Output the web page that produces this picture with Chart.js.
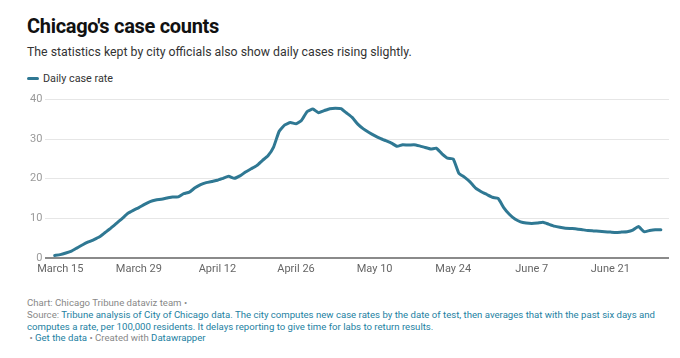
<!DOCTYPE html>
<html>
<head>
<meta charset="utf-8">
<script src="https://cdn.jsdelivr.net/npm/chart.js@4/dist/chart.umd.min.js"></script>
<style>
  html, body { margin: 0; padding: 0; background: #fff; }
  body { width: 680px; height: 358px; position: relative; overflow: hidden; font-family: Roboto, "Noto Sans", sans-serif; }
  #title { position: absolute; left: 27px; top: 14px; font-size: 20px; font-weight: 700; color: #111; letter-spacing: -0.3px; white-space: nowrap; }
  #subtitle { position: absolute; left: 27px; top: 45px; font-size: 12.3px; color: #333; white-space: nowrap; }
  #legend { position: absolute; left: 27px; top: 72px; font-size: 10.8px; color: #333; white-space: nowrap; display: flex; align-items: center; }
  #legend .sw { display: inline-block; width: 12px; height: 3px; border-radius: 2px; background: #2f7893; margin-right: 4px; }
  #wrap { position: absolute; left: 0; top: 90px; width: 680px; height: 200px; }
  #footer { position: absolute; left: 27px; top: 297px; font-size: 9.6px; line-height: 11.8px; color: #888; white-space: nowrap; }
  #footer .lk { color: #1d81a2; }
</style>
</head>
<body>
<div id="title">Chicago's case counts</div>
<div id="subtitle">The statistics kept by city officials also show daily cases rising slightly.</div>
<div id="legend"><span class="sw"></span>Daily case rate</div>
<div id="wrap"><canvas id="c"></canvas></div>
<div id="footer">Chart: Chicago Tribune dataviz team •<br>Source: <span class="lk">Tribune analysis of City of Chicago data. The city computes new case rates by the date of test, then averages that with the past six days and<br>computes a rate, per 100,000 residents. It delays reporting to give time for labs to return results.</span><br>&nbsp;• <span class="lk">Get the data</span> • Created with <span class="lk">Datawrapper</span></div>
<script>
// Daily case rate per 100,000, one value per day starting March 14
const seriesName = "Daily case rate";
const firstDay = "March 14";
const dailyRate = [
  0.6, 0.8, 1.2, 1.7, 2.5, 3.3, 4.0, 4.6, 5.3, 6.4,
  7.5, 8.7, 9.9, 11.2, 12.0, 12.7, 13.5, 14.2, 14.6, 14.8,
  15.1, 15.4, 15.4, 16.2, 16.6, 17.7, 18.5, 19.0, 19.3, 19.6,
  20.1, 20.6, 20.1, 20.7, 21.7, 22.5, 23.3, 24.6, 25.8, 28.0,
  32.0, 33.6, 34.2, 33.9, 34.8, 37.0, 37.6, 36.7, 37.2, 37.7,
  37.8, 37.7, 36.6, 35.5, 33.8, 32.6, 31.7, 30.9, 30.2, 29.6,
  29.0, 28.2, 28.6, 28.5, 28.6, 28.3, 27.9, 27.5, 27.7, 26.3,
  25.2, 25.0, 21.4, 20.4, 19.2, 17.6, 16.7, 16.0, 15.3, 15.0,
  12.7, 11.0, 9.8, 9.1, 8.8, 8.7, 8.8, 9.0, 8.5, 8.0,
  7.7, 7.5, 7.4, 7.3, 7.1, 6.9, 6.8, 6.7, 6.6, 6.5,
  6.4, 6.5, 6.6, 7.0, 7.9, 6.6, 6.9, 7.1, 7.1
];
// x tick positions (days after March 14) and their labels
const tickDays = [1, 15, 29, 43, 57, 71, 85, 99];
const tickLabels = ["March 15", "March 29", "April 12", "April 26", "May 10", "May 24", "June 7", "June 21"];
const yTicks = [0, 10, 20, 30, 40];

const lineColor = "#2f7893";
const points = dailyRate.map((v, i) => ({ x: i, y: v }));

new Chart(document.getElementById("c"), {
  type: "line",
  data: {
    datasets: [{
      label: seriesName,
      data: points,
      borderColor: lineColor,
      borderWidth: 3,
      pointRadius: 0,
      tension: 0.15,
      borderCapStyle: "round",
      borderJoinStyle: "round",
      fill: false
    }]
  },
  options: {
    responsive: true,
    maintainAspectRatio: false,
    animation: false,
    layout: { padding: { left: 27, right: 11, top: 9, bottom: 9 } },
    plugins: { legend: { display: false }, tooltip: { enabled: false } },
    scales: {
      x: {
        type: "linear",
        min: -1.66,
        max: 109.45,
        afterBuildTicks: (s) => { s.ticks = tickDays.map(v => ({ value: v })); },
        ticks: {
          autoSkip: false,
          maxRotation: 0,
          padding: 5,
          color: "#666",
          font: { family: "Roboto", size: 11 },
          callback: (v) => tickLabels[tickDays.indexOf(v)] || ""
        },
        grid: { display: false, drawTicks: false },
        border: { display: false }
      },
      y: {
        min: 0,
        max: 40,
        afterBuildTicks: (s) => { s.ticks = yTicks.map(v => ({ value: v })); },
        ticks: {
          padding: 3,
          color: "#9a9a9a",
          font: { family: "Roboto", size: 11 }
        },
        grid: {
          drawTicks: false,
          color: (ctx) => ctx.tick && ctx.tick.value === 0 ? "#8a8a8a" : "#e6e6e6",
          lineWidth: (ctx) => ctx.tick && ctx.tick.value === 0 ? 2 : 1
        },
        border: { display: false }
      }
    }
  }
});
</script>
</body>
</html>
